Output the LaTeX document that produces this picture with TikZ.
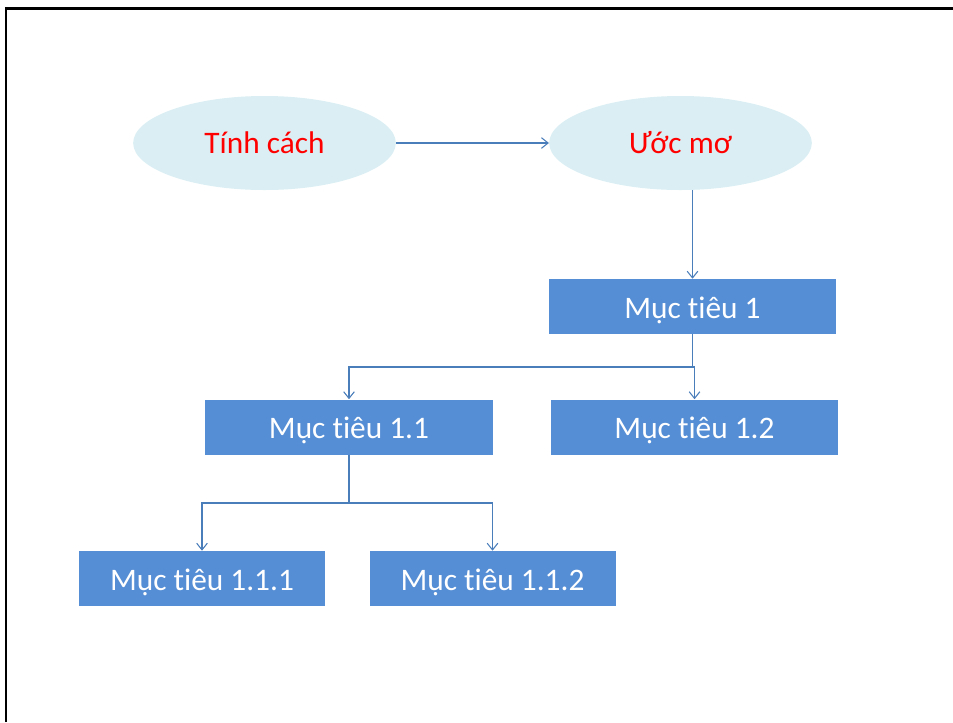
\documentclass[tikz,border=0pt]{standalone}
\usepackage{fontspec}
\setmainfont{Carlito}[Ligatures=NoCommon]
\usetikzlibrary{shapes.geometric,arrows.meta}
\definecolor{ovalfill}{HTML}{DAEEF3}
\definecolor{boxfill}{HTML}{558ED5}
\definecolor{linkcol}{HTML}{4A7EBB}
\begin{document}
\begin{tikzpicture}[x=0.75pt,y=-0.75pt,>={Straight Barb[length=5pt,width=8pt]}]
            \tikzstyle{oval}=[ellipse,fill=ovalfill,text=red,minimum width=197pt,minimum height=70.5pt,font=\fontsize{23.5}{28}\selectfont]
            \tikzstyle{goal}=[rectangle,fill=boxfill,text=white,minimum height=41.25pt,text height=17.5pt,text depth=0pt,font=\fontsize{23.5}{28}\selectfont]
            \tikzstyle{link}=[draw=linkcol,line width=0.8pt]
            \useasboundingbox (0,0) rectangle (953,722);
            % frame of the slide
            \draw[line width=2pt] (6,722) -- (6,8.5) -- (953,8.5);
            \node[oval](tinh) at (264.5,143){Tính cách};
            \node[oval](uoc) at (680.5,143){Ước mơ};
            \node[goal,minimum width=215pt](mt1) at (692.5,306.5){Mục tiêu 1};
            \node[goal,minimum width=216pt](mt11) at (349,427){Mục tiêu 1.1};
            \node[goal,minimum width=215pt](mt12) at (694.5,427){Mục tiêu 1.2};
            \node[goal,minimum width=184.5pt](mt111) at (202,578.5){Mục tiêu 1.1.1};
            \node[goal,minimum width=184.5pt](mt112) at (492.5,578.5){Mục tiêu 1.1.2};
            \coordinate (j1) at (692.5,367);
            \coordinate (j2) at (349,503);
            \draw[link,->] (tinh) -- (uoc);
            \draw[link,->] (mt1.north |- uoc.south) -- (mt1.north);
            \draw[link,->] (mt1.south) -- (j1) -| (mt11.north);
            \draw[link,->] (j1) -| (mt12.north);
            \draw[link,->] (mt11.south) -- (j2) -| (mt111.north);
            \draw[link,->] (j2) -| (mt112.north);
          \end{tikzpicture}
\end{document}
